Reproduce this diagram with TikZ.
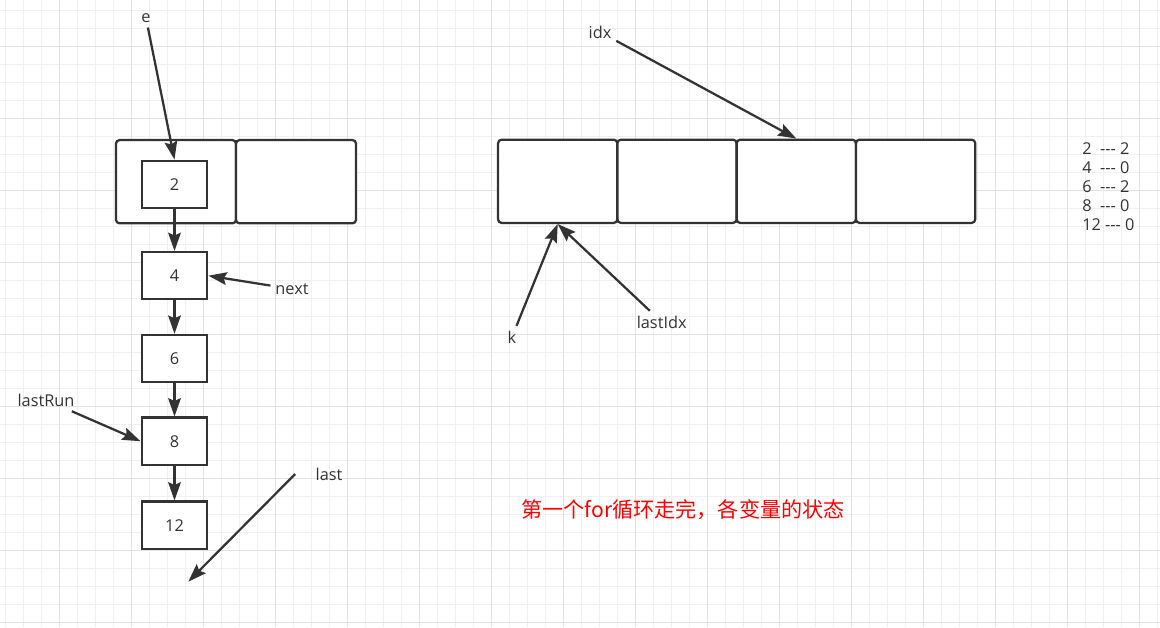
\documentclass[tikz,border=0pt]{standalone}
\usepackage{fontspec}
\setmainfont{Open Sans}
\newfontfamily\cjk{Noto Sans CJK SC}
\usepackage{xcolor}
\usepackage{tikz}
\usetikzlibrary{arrows.meta}
\definecolor{ink}{HTML}{333333}
\definecolor{gridminor}{HTML}{F0F0F0}
\definecolor{gridmajor}{HTML}{E2E2E2}

\begin{document}
\begin{tikzpicture}[x=0.025cm,y=-0.025cm,
  lbl/.style={text=ink,font=\fontsize{11.6}{13.5}\selectfont},
  item/.style={draw=ink,fill=white,line width=1.6pt,minimum width=1.64cm,minimum height=1.18cm,text=ink,font=\fontsize{11.6}{13.5}\selectfont},
  slot/.style={draw=ink,fill=white,line width=1.6pt,rounded corners=2.5pt,minimum width=3cm,minimum height=2.08cm},
  ptr/.style={draw=ink,line width=1.6pt,-{Stealth[length=13pt,width=9pt,inset=2pt]}}]
\useasboundingbox[fill=white] (0,0) rectangle (1160,627);
\foreach \gx in {0,...,64} \draw[gridminor,line width=0.7pt] (5.5+18*\gx,0) -- (5.5+18*\gx,627);
\foreach \gy in {0,...,34} \draw[gridminor,line width=0.7pt] (0,10.3+18*\gy) -- (1160,10.3+18*\gy);
\foreach \gx in {0,...,15} \draw[gridmajor,line width=0.7pt] (59.5+72*\gx,0) -- (59.5+72*\gx,627);
\foreach \gy in {0,...,8} \draw[gridmajor,line width=0.7pt] (0,46.3+72*\gy) -- (1160,46.3+72*\gy);

\node[slot] (tl1) at (176,181.7) {};
\node[slot] (tl2) at (296,181.7) {};
\foreach \i in {1,...,4}
  \node[slot,minimum width=2.98cm] (ta\i) at (438.4+119.3*\i,181.3) {};

\node[item] (n2) at (174.5,184.3) {2};
\node[item] (n4) at (174.5,275.7) {4};
\node[item] (n6) at (174.5,358.5) {6};
\node[item] (n8) at (174.5,441.2) {8};
\node[item] (n12) at (174.5,525.2) {12};
\foreach \a/\b in {2/4,4/6,6/8,8/12}
  \draw[ptr] (n\a) -- (n\b);

\node[lbl] (e) at (146,18) {e};
\node[lbl] (next) at (292,289) {next};
\node[lbl] (lastRun) at (46,400) {lastRun};
\node[lbl] (last) at (329,474) {last};
\coordinate (lastEnd) at (188.3,581.7);
\node[lbl] (idx) at (600,32) {idx};
\node[lbl] (k) at (512,337) {k};
\node[lbl] (lastIdx) at (661.7,322) {lastIdx};

\draw[ptr] (e) -- (n2.north);
\draw[ptr] (next) -- (n4.east);
\draw[ptr] (lastRun) -- (n8.west);
\draw[ptr] ([xshift=-11pt]last.west) -- (lastEnd);
\draw[ptr] (idx) -- (ta3.north);
\draw[ptr] (k) -- (ta1.south);
\draw[ptr] (lastIdx) -- (ta1.south);

\node[text=red,font=\cjk\fontsize{15}{18}\selectfont] (caption) at (683,510) {第一个for循环走完，各变量的状态};
\node[lbl,anchor=north west,inner sep=0pt,align=left] (counts) at (1082,142.5)
  {2\ \ -{}-{}- 2\\4\ \ -{}-{}- 0\\6\ \ -{}-{}- 2\\8\ \ -{}-{}- 0\\12 -{}-{}- 0};
\end{tikzpicture}
\end{document}
